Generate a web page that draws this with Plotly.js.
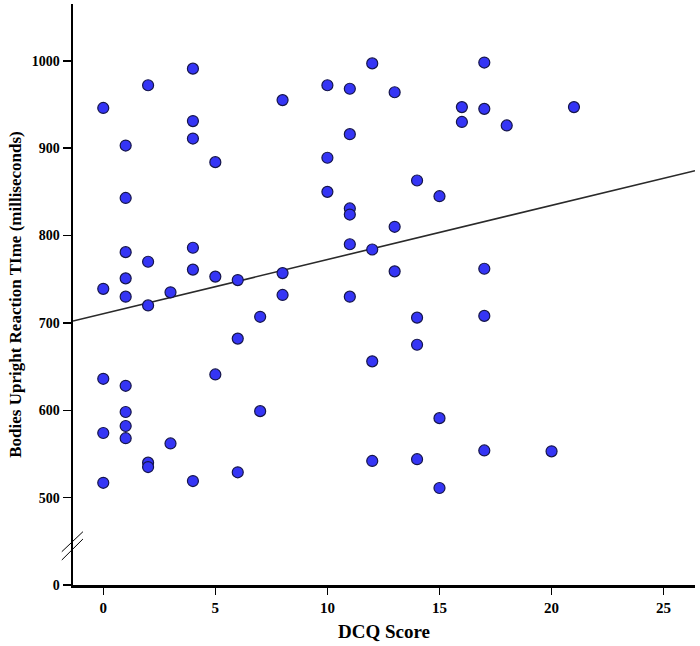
<!DOCTYPE html>
<html>
<head>
<meta charset="utf-8">
<script src="https://cdn.plot.ly/plotly-3.0.1.min.js"></script>
<style>html,body{margin:0;padding:0;background:#fff;}#chart{width:700px;height:646px;}</style>
</head>
<body>
<div id="chart"></div>
<script>
// DCQ score (x) and reaction time in ms (y)
const dcqScore = [0,2,4,8,4,4,1,5,1,1,4,2,4,1,5,6,8,0,1,3,8,2,7,6,5,0,1,1,7,1,0,1,3,2,2,6,4,0,
  12,17,10,11,13,16,17,21,16,18,11,10,14,10,15,11,11,13,11,12,13,17,11,14,17,14,12,15,17,20,12,14,15];
const reactionTime = [946,972,991,955,931,911,903,884,843,781,786,770,761,751,753,749,757,739,730,735,732,720,707,682,641,636,628,598,599,582,574,568,562,540,535,529,519,517,
  997,998,972,968,964,947,945,947,930,926,916,889,863,850,845,831,824,810,790,784,759,762,730,706,708,675,656,591,554,553,542,544,511];
const xTicks = [0,5,10,15,20,25];
const yTickVals = [400,500,600,700,800,900,1000];   // 400 = position of the broken-axis "0"
const yTickText = ['0','500','600','700','800','900','1000'];
// fit line as drawn in the picture (intercept, slope)
const fitIntercept = 710.5;
const fitSlope = 6.2;

const xr = [-1.35, 26.4];

const font = {family:'"Liberation Serif", "Times New Roman", serif', color:'#000'};
const traces = [
  {x: xr, y: xr.map(v=>fitIntercept+fitSlope*v), mode:'lines', line:{color:'#2a2a2a', width:1.6}, hoverinfo:'skip', showlegend:false},
  {x: dcqScore, y: reactionTime, mode:'markers', type:'scatter', showlegend:false,
   marker:{size:11, color:'#3535f5', line:{color:'#15154a', width:1.2}}}
];
const layout = {
  width:700, height:646,
  margin:{l:73, r:5, t:4, b:61},
  paper_bgcolor:'#fff', plot_bgcolor:'#fff',
  showlegend:false,
  xaxis:{range:xr, tickvals:xTicks, showgrid:false, zeroline:false, showline:true, linecolor:'#000', linewidth:2.5,
    ticks:'outside', ticklen:7, tickwidth:1.5, tickcolor:'#000',
    tickfont:Object.assign({size:15, weight:'bold'}, font),
    title:{text:'<b>DCQ Score</b>', font:Object.assign({size:19}, font), standoff:10}},
  yaxis:{range:[400,1065], tickvals:yTickVals, ticktext:yTickText, showgrid:false, zeroline:false, showline:true, linecolor:'#000', linewidth:2.5,
    ticks:'outside', ticklen:8, tickwidth:1.5, tickcolor:'#000',
    tickfont:Object.assign({size:14, weight:'bold'}, font),
    title:{text:'<b>Bodies Upright Reaction TIme (milliseconds)</b>', font:Object.assign({size:17}, font), standoff:6}},
  shapes:[
    {type:'line', xref:'paper', yref:'paper', x0:-0.018, x1:0.016, y0:(585-551.7)/581, y1:(585-531.7)/581, line:{color:'#000', width:1}},
    {type:'line', xref:'paper', yref:'paper', x0:-0.018, x1:0.016, y0:(585-560)/581, y1:(585-539)/581, line:{color:'#000', width:1}}
  ]
};
Plotly.newPlot('chart', traces, layout, {displayModeBar:false, staticPlot:true});
</script>
</body>
</html>
